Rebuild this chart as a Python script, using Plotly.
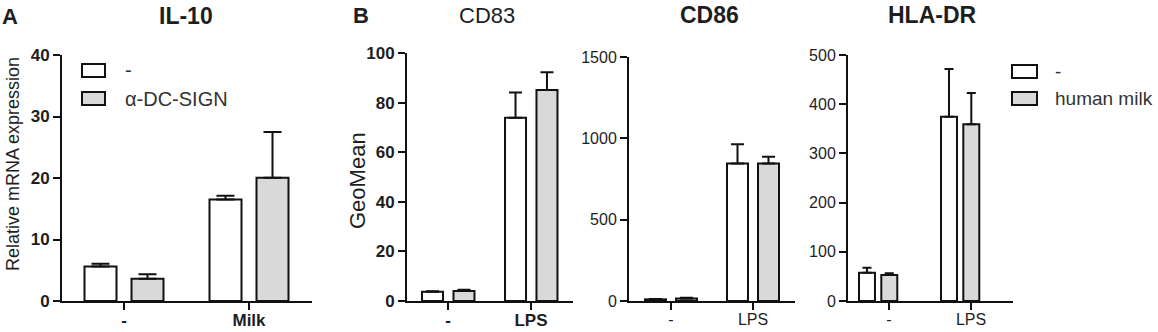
import plotly.graph_objects as go

# ---------------- data ----------------
groups_A = ["-", "Milk"]
groups_B = ["-", "LPS"]
legend_A = ["-", "α-DC-SIGN"]
legend_B = ["-", "human milk"]

il10_ctrl = [5.6, 16.5]
il10_ctrl_err = [0.45, 0.6]
il10_dcsign = [3.6, 20.05]
il10_dcsign_err = [0.75, 7.45]

cd83_ctrl = [3.75, 73.9]
cd83_ctrl_err = [0.2, 10.2]
cd83_milk = [4.0, 85.1]
cd83_milk_err = [0.5, 7.1]

cd86_ctrl = [10, 846]
cd86_ctrl_err = [3, 117]
cd86_milk = [16, 846]
cd86_milk_err = [4, 41]

hla_ctrl = [57.5, 374.6]
hla_ctrl_err = [10, 97]
hla_milk = [52.8, 359]
hla_milk_err = [3.5, 64]

yticks_A = [0, 10, 20, 30, 40]
yticks_CD83 = [0, 20, 40, 60, 80, 100]
yticks_CD86 = [0, 500, 1000, 1500]
yticks_HLA = [0, 100, 200, 300, 400, 500]

# ---------------- style ----------------
W, H = 1158, 332
FONT = "Liberation Sans, Arial, sans-serif"
WHITE = "#ffffff"
GRAY = "#d9d9d9"
LINE = "#111111"
TXT = "#1e1e1e"


def px_x(p):
    return p / W


def px_y(p):
    return 1 - p / H


fig = go.Figure()

panels = [
    dict(cats=groups_A,
         series=[(il10_ctrl, il10_ctrl_err, WHITE, legend_A[0]), (il10_dcsign, il10_dcsign_err, GRAY, legend_A[1])],
         xdom=(62, 312), ydom=(301, 55), xr=(-0.496, 1.504), yt=yticks_A,
         bw=0.256, offs=(-0.316, 0.06), cap=9, bold=True),
    dict(cats=groups_B,
         series=[(cd83_ctrl, cd83_ctrl_err, WHITE, legend_B[0]), (cd83_milk, cd83_milk_err, GRAY, legend_B[1])],
         xdom=(407, 573), ydom=(301, 53), xr=(-0.494, 1.506), yt=yticks_CD83,
         bw=0.253, offs=(-0.313, 0.066), cap=6.5, bold=True),
    dict(cats=groups_B,
         series=[(cd86_ctrl, cd86_ctrl_err, WHITE, legend_B[0]), (cd86_milk, cd86_milk_err, GRAY, legend_B[1])],
         xdom=(629, 795), ydom=(301, 57), xr=(-0.512, 1.512), yt=yticks_CD86,
         bw=0.256, offs=(-0.317, 0.061), cap=6.5, bold=False),
    dict(cats=groups_B,
         series=[(hla_ctrl, hla_ctrl_err, WHITE, legend_B[0]), (hla_milk, hla_milk_err, GRAY, legend_B[1])],
         xdom=(848, 1013), ydom=(301, 55), xr=(-0.5, 1.512), yt=yticks_HLA,
         bw=0.195, offs=(-0.366, -0.094), cap=4.5, bold=False),
]

layout_axes = {}
for i, p in enumerate(panels, start=1):
    xa = "x" if i == 1 else f"x{i}"
    ya = "y" if i == 1 else f"y{i}"
    for (vals, errs, color, name), off in zip(p["series"], p["offs"]):
        fig.add_trace(go.Bar(
            x=p["cats"], y=vals, name=name, xaxis=xa, yaxis=ya,
            width=[p["bw"]] * len(vals), offset=[off] * len(vals),
            marker=dict(color=color, line=dict(color=LINE, width=2)),
            error_y=dict(type="data", array=errs, arrayminus=[0] * len(errs), symmetric=False,
                         color=LINE, thickness=2, width=p["cap"]),
            showlegend=False,
        ))
    weight = "bold" if p["bold"] else "normal"
    tsize = 17 if p["bold"] else 16
    key = "" if i == 1 else str(i)
    layout_axes["xaxis" + key] = dict(
        domain=[px_x(p["xdom"][0]), px_x(p["xdom"][1])], anchor=ya,
        type="category", categoryorder="array", categoryarray=p["cats"],
        range=list(p["xr"]), showline=True, linecolor=LINE, linewidth=2,
        ticks="outside", ticklen=7, tickwidth=2, tickcolor=LINE,
        ticklabelstandoff=-4,
        showgrid=False, zeroline=False, fixedrange=True, automargin=False,
        tickfont=dict(family=FONT, size=tsize, color=TXT, weight=weight),
    )
    layout_axes["yaxis" + key] = dict(
        domain=[px_y(p["ydom"][0]), px_y(p["ydom"][1])], anchor=xa,
        range=[0, p["yt"][-1]], tickvals=p["yt"], showline=True, linecolor=LINE, linewidth=2,
        ticks="outside", ticklen=7, tickwidth=2, tickcolor=LINE,
        showgrid=False, zeroline=False, fixedrange=True, automargin=False,
        tickfont=dict(family=FONT, size=tsize, color=TXT, weight=weight),
    )

fig.update_layout(**layout_axes)

annotations = []


def text(x, y, s, size, weight="normal", angle=0, xanchor="center", color=TXT):
    annotations.append(dict(
        x=px_x(x), y=px_y(y), xref="paper", yref="paper", text=s, showarrow=False,
        xanchor=xanchor, yanchor="middle", textangle=angle,
        font=dict(family=FONT, size=size, color=color, weight=weight),
    ))


# panel letters and titles
text(10, 16, "A", 22, "bold")
text(361, 15, "B", 22, "bold")
text(186, 16, "IL-10", 23, "bold")
text(487, 15, "CD83", 22, "normal")
text(709, 15, "CD86", 23, "bold")
text(932, 15, "HLA-DR", 23, "bold")

# y-axis titles
text(13, 164, "Relative mRNA expression", 18, angle=-90)
text(357, 181, "GeoMean", 22, angle=-90)

# legends (boxes + labels)
shapes = []
legend_specs = [
    (82, 105, [(64, 77), (92, 105)], 123, legend_A, 20),
    (1012, 1037, [(65, 78), (92, 105)], 1053, legend_B, 19),
]
for x0, x1, rows, tx, labels, fs in legend_specs:
    for (y0, y1), fill, lab in zip(rows, [WHITE, GRAY], labels):
        shapes.append(dict(type="rect", xref="paper", yref="paper",
                           x0=px_x(x0), x1=px_x(x1), y0=px_y(y1), y1=px_y(y0),
                           fillcolor=fill, line=dict(color=LINE, width=2)))
        text(tx, (y0 + y1) / 2, lab, fs, xanchor="left", color="#333333")

fig.update_layout(
    width=W, height=H, margin=dict(l=0, r=0, t=0, b=0, pad=0, autoexpand=False),
    paper_bgcolor="white", plot_bgcolor="white",
    barmode="overlay", showlegend=False,
    annotations=annotations, shapes=shapes,
    font=dict(family=FONT, color=TXT),
)

fig.write_html(
    "out.html",
    config={"displayModeBar": False},
    post_script="document.body.style.margin='0';document.body.style.overflow='hidden';",
)
